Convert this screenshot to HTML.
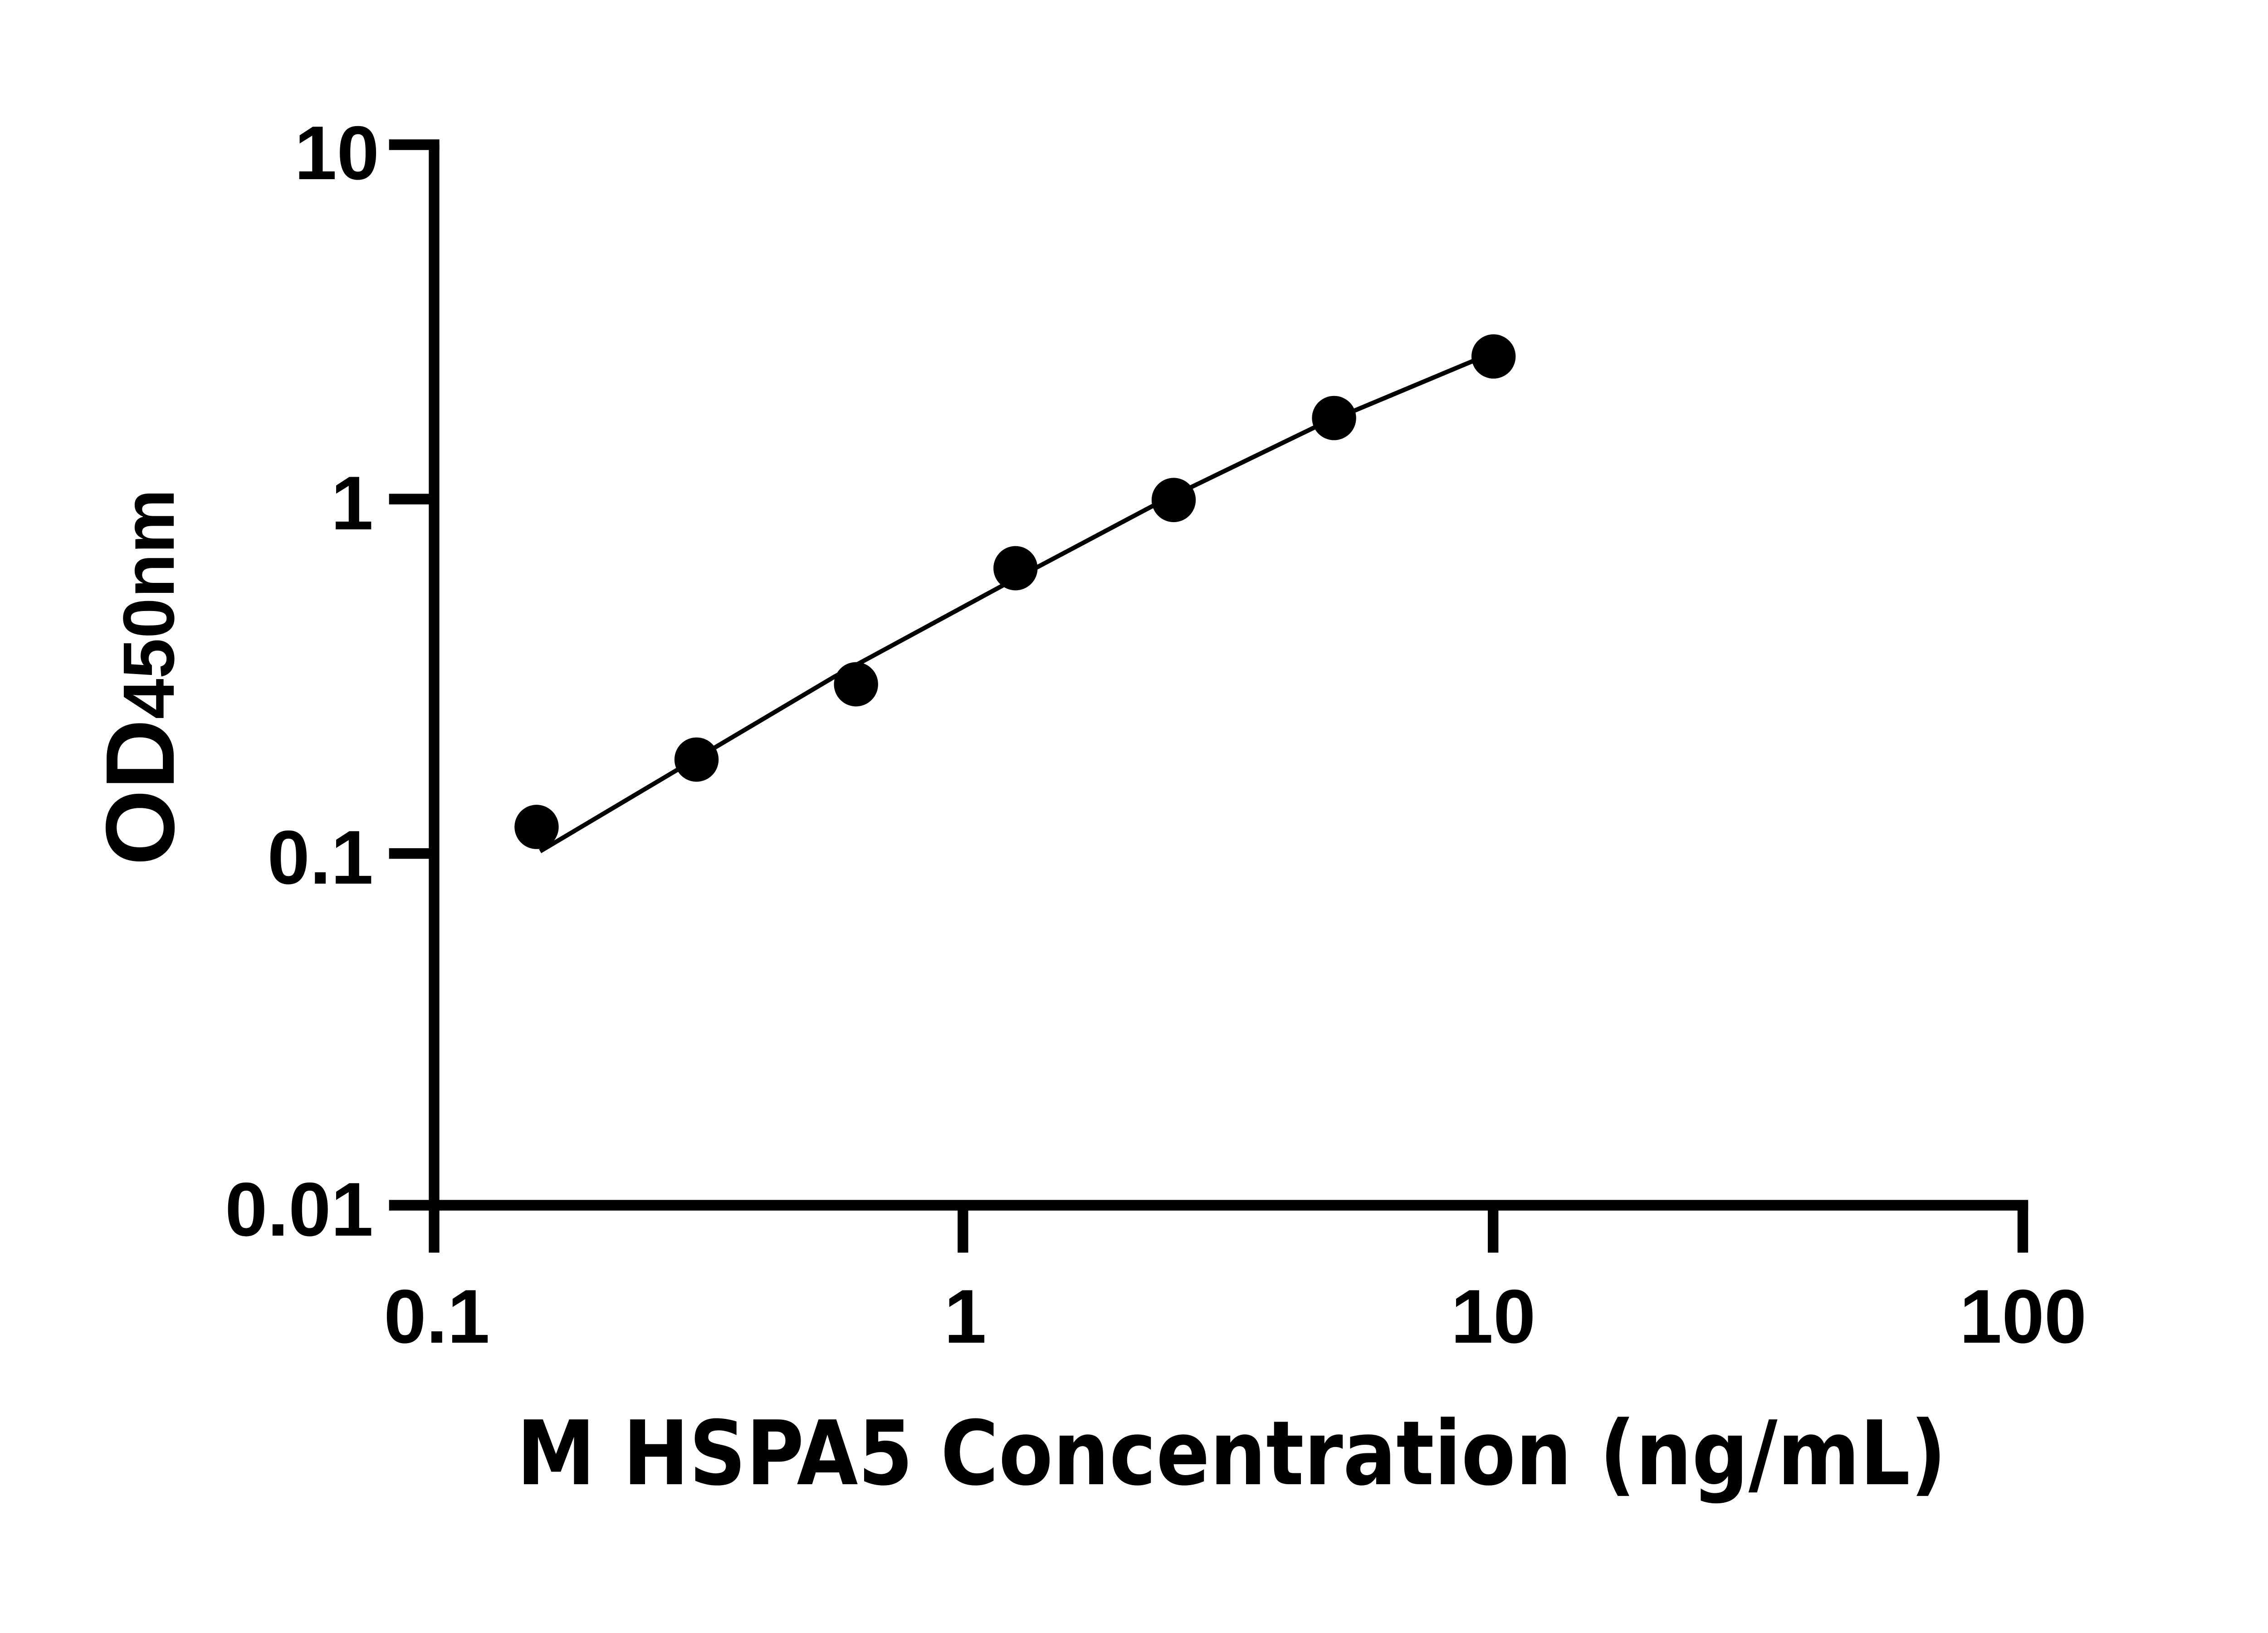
<!DOCTYPE html>
<html><head><meta charset="utf-8"><style>html,body{margin:0;padding:0;background:#fff}svg{display:block}</style></head>
<body>
<svg width="5142" height="3600" viewBox="0 0 5142 3600" xmlns="http://www.w3.org/2000/svg" font-family="'Liberation Sans', Arial, sans-serif" font-weight="bold">
<rect width="5142" height="3600" fill="#fff"/>
<g transform="translate(957,319) scale(0.974,0.9766) translate(-990,-336)">
<line x1="990" y1="336" x2="990" y2="2741" stroke="#000" stroke-width="24"/>
<line x1="888" y1="2730" x2="4598" y2="2730" stroke="#000" stroke-width="24"/>
<g stroke="#000" stroke-width="24">
<line x1="888" y1="336" x2="1002" y2="336"/>
<line x1="888" y1="1136" x2="990" y2="1136"/>
<line x1="888" y1="1936" x2="990" y2="1936"/>
</g>
<g stroke="#000" stroke-width="24">
<line x1="990" y1="2720" x2="990" y2="2837"/>
<line x1="2187" y1="2720" x2="2187" y2="2837"/>
<line x1="3387" y1="2720" x2="3387" y2="2837"/>
<line x1="4586" y1="2720" x2="4586" y2="2837"/>
</g>
<polyline fill="none" stroke="#000" stroke-width="10" points="1230,1931 1544,1745 1896,1537 2279,1330 2623,1148 2983,974 3342,824"/>
<g fill="#000">
<circle cx="1222" cy="1876" r="50"/>
<circle cx="1584" cy="1724" r="50"/>
<circle cx="1945" cy="1554" r="50"/>
<circle cx="2306" cy="1292" r="50"/>
<circle cx="2664" cy="1138" r="50"/>
<circle cx="3027" cy="953" r="50"/>
<circle cx="3388" cy="814" r="50"/>
</g>
</g>
<g font-size="168" text-anchor="end">
<text x="836" y="395">10</text>
<text x="823" y="1167">1</text>
<text x="823" y="1948">0.1</text>
<text x="823" y="2724">0.01</text>
</g>
<g font-size="168" text-anchor="middle">
<text x="963" y="2960">0.1</text>
<text x="2128" y="2960">1</text>
<text x="3292" y="2960">10</text>
<text x="4460" y="2960">100</text>
</g>
<text x="1139" y="3272" font-size="196" font-family="'DejaVu Sans', 'Liberation Sans', sans-serif" textLength="3152" lengthAdjust="spacingAndGlyphs">M HSPA5 Concentration (ng/mL)</text>
<text transform="translate(383,1908) rotate(-90)" font-size="215" textLength="830" lengthAdjust="spacingAndGlyphs">OD<tspan font-size="160">450nm</tspan></text>
</svg>
</body></html>
